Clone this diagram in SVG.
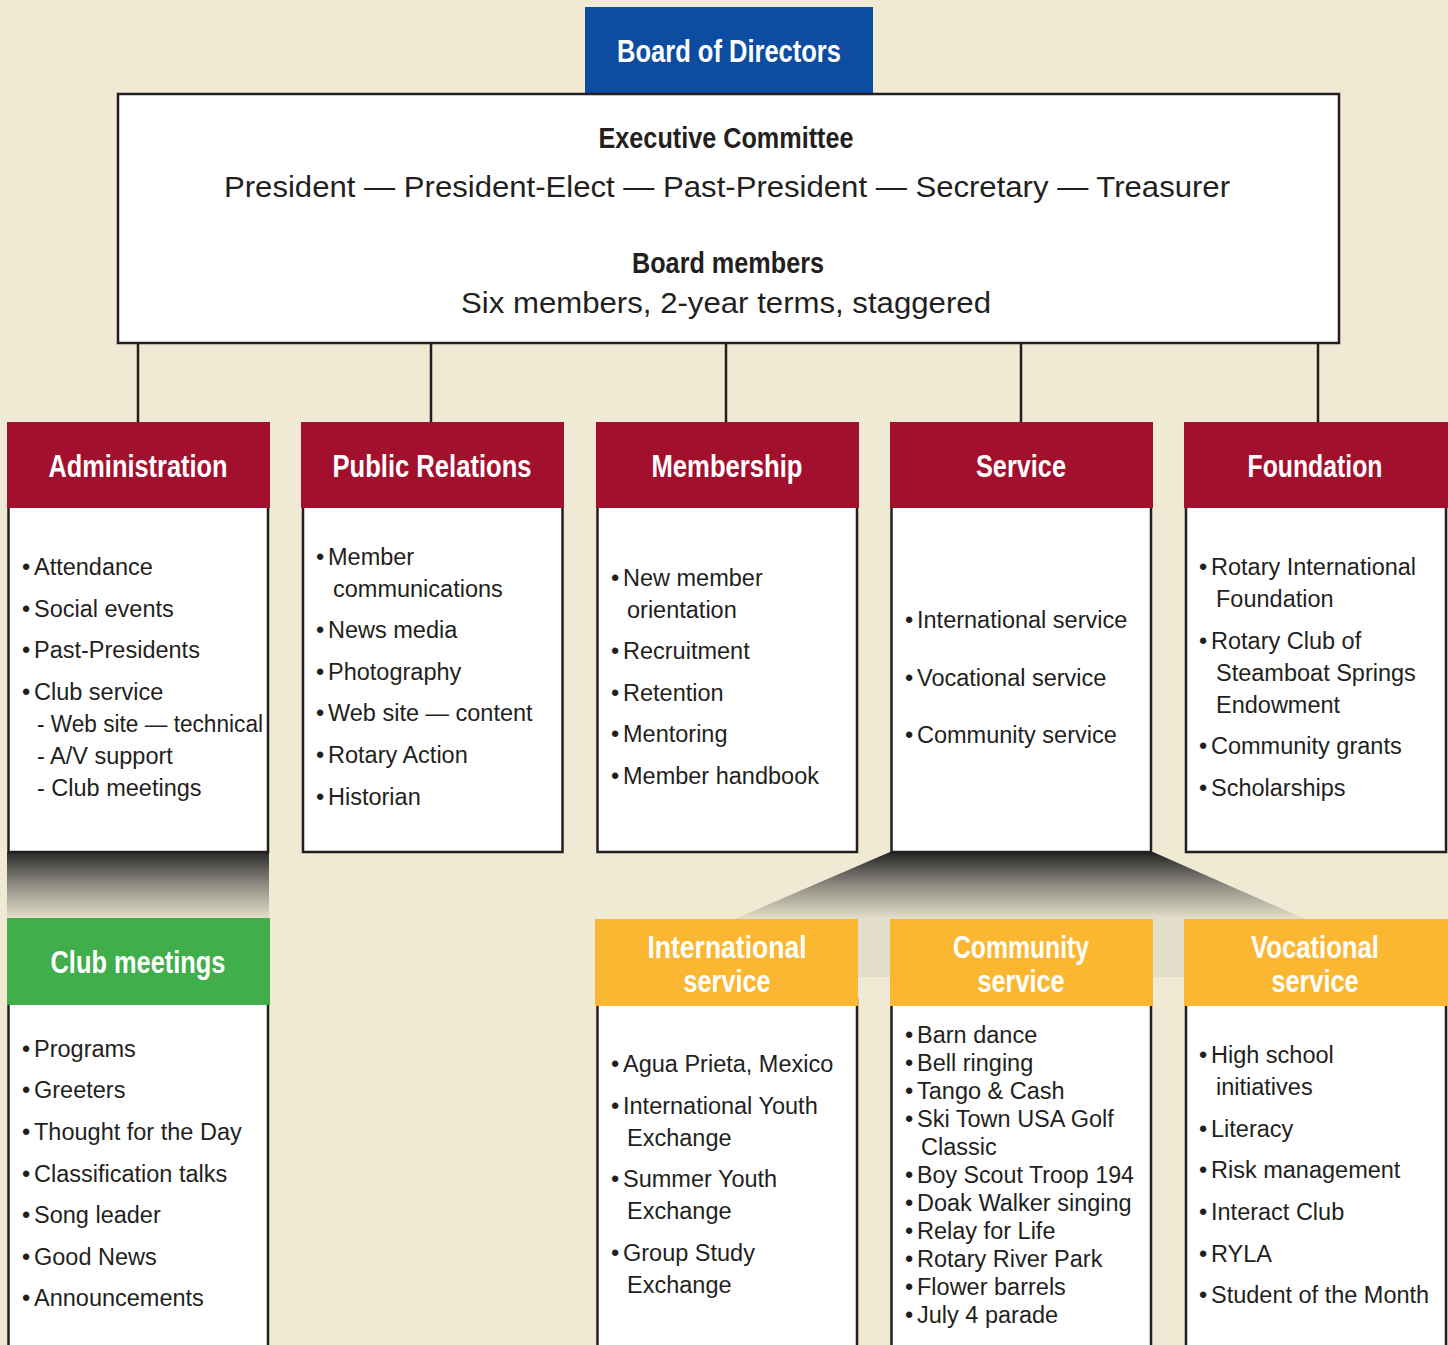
<svg xmlns="http://www.w3.org/2000/svg" width="1448" height="1345" viewBox="0 0 1448 1345">
<style>
.hd{font-family:"Liberation Sans",Arial,sans-serif;font-weight:bold;font-size:31px;fill:#ffffff;text-anchor:middle}
.hk{font-family:"Liberation Sans",Arial,sans-serif;font-weight:bold;font-size:29px;fill:#231f20;text-anchor:middle}
.ex{font-family:"Liberation Sans",Arial,sans-serif;font-size:30px;fill:#231f20;text-anchor:middle}
.it{font-family:"Liberation Sans",Arial,sans-serif;font-size:23.5px;fill:#231f20}
.box{fill:#ffffff;stroke:#231f20;stroke-width:2.5}
.red{fill:#a3102d}
.grn{fill:#40ae4b}
.org{fill:#fbb732}
.blu{fill:#0c4da2}
.conn{stroke:#231f20;stroke-width:2.5;fill:none}
</style>
<defs>
<linearGradient id="shadeA" x1="0" y1="852" x2="0" y2="918" gradientUnits="userSpaceOnUse">
<stop offset="0" stop-color="#2a2a2a"/>
<stop offset="0.5" stop-color="#8f8d83"/>
<stop offset="1" stop-color="#e3dec9"/>
</linearGradient>
<linearGradient id="shadeS" x1="0" y1="852" x2="0" y2="977" gradientUnits="userSpaceOnUse">
<stop offset="0" stop-color="#222222"/>
<stop offset="0.27" stop-color="#8f8d83"/>
<stop offset="0.53" stop-color="#e3dec9"/>
<stop offset="1" stop-color="#e3dec9"/>
</linearGradient>
</defs>
<rect x="0" y="0" width="1448" height="1345" fill="#f0e9d4"/>

<g id="connectors">
<line class="conn" x1="138" y1="343" x2="138" y2="423"/>
<line class="conn" x1="431" y1="343" x2="431" y2="423"/>
<line class="conn" x1="726" y1="343" x2="726" y2="423"/>
<line class="conn" x1="1021" y1="343" x2="1021" y2="423"/>
<line class="conn" x1="1318" y1="343" x2="1318" y2="423"/>
<rect x="7" y="852" width="262" height="66" fill="url(#shadeA)"/>
<polygon points="890,852 1153,852 1437,977 601,977" fill="url(#shadeS)"/>
</g>

<g id="board">
<rect class="blu" x="585" y="7" width="288" height="86"/>
<text class="hd" x="729" y="62" textLength="224" lengthAdjust="spacingAndGlyphs">Board of Directors</text>
</g>

<g id="executive">
<rect class="box" x="118" y="94" width="1221" height="249"/>
<text class="hk" x="726" y="148" textLength="255" lengthAdjust="spacingAndGlyphs">Executive Committee</text>
<text class="ex" x="727" y="197" textLength="1006" lengthAdjust="spacingAndGlyphs">President — President-Elect — Past-President — Secretary — Treasurer</text>
<text class="hk" x="728" y="273" textLength="192" lengthAdjust="spacingAndGlyphs">Board members</text>
<text class="ex" x="726" y="313" textLength="530" lengthAdjust="spacingAndGlyphs">Six members, 2-year terms, staggered</text>
</g>

<g id="administration">
<rect class="box" x="8.5" y="500" width="259.5" height="352"/>
<rect class="red" x="7" y="422" width="263" height="86"/>
<text class="hd" x="138" y="477" textLength="179" lengthAdjust="spacingAndGlyphs">Administration</text>
<text class="it" y="575"><tspan x="22">•</tspan><tspan x="34">Attendance</tspan></text>
<text class="it" y="617"><tspan x="22">•</tspan><tspan x="34">Social events</tspan></text>
<text class="it" y="658"><tspan x="22">•</tspan><tspan x="34">Past-Presidents</tspan></text>
<text class="it" y="700"><tspan x="22">•</tspan><tspan x="34">Club service</tspan></text>
<text class="it" x="37" y="732" textLength="226" lengthAdjust="spacingAndGlyphs">- Web site — technical</text>
<text class="it" x="37" y="764">- A/V support</text>
<text class="it" x="37" y="796">- Club meetings</text>
</g>

<g id="public-relations">
<rect class="box" x="303" y="500" width="259.5" height="352"/>
<rect class="red" x="301" y="422" width="263" height="86"/>
<text class="hd" x="432" y="477" textLength="199" lengthAdjust="spacingAndGlyphs">Public Relations</text>
<text class="it" y="565"><tspan x="316">•</tspan><tspan x="328">Member</tspan></text>
<text class="it" x="333" y="597">communications</text>
<text class="it" y="638"><tspan x="316">•</tspan><tspan x="328">News media</tspan></text>
<text class="it" y="680"><tspan x="316">•</tspan><tspan x="328">Photography</tspan></text>
<text class="it" y="721"><tspan x="316">•</tspan><tspan x="328">Web site — content</tspan></text>
<text class="it" y="763"><tspan x="316">•</tspan><tspan x="328">Rotary Action</tspan></text>
<text class="it" y="805"><tspan x="316">•</tspan><tspan x="328">Historian</tspan></text>
</g>

<g id="membership">
<rect class="box" x="597.5" y="500" width="259.5" height="352"/>
<rect class="red" x="596" y="422" width="263" height="86"/>
<text class="hd" x="727" y="477" textLength="151" lengthAdjust="spacingAndGlyphs">Membership</text>
<text class="it" y="586"><tspan x="611">•</tspan><tspan x="623">New member</tspan></text>
<text class="it" x="627" y="618">orientation</text>
<text class="it" y="659"><tspan x="611">•</tspan><tspan x="623">Recruitment</tspan></text>
<text class="it" y="701"><tspan x="611">•</tspan><tspan x="623">Retention</tspan></text>
<text class="it" y="742"><tspan x="611">•</tspan><tspan x="623">Mentoring</tspan></text>
<text class="it" y="784"><tspan x="611">•</tspan><tspan x="623">Member handbook</tspan></text>
</g>

<g id="service">
<rect class="box" x="891.5" y="500" width="259.5" height="352"/>
<rect class="red" x="890" y="422" width="263" height="86"/>
<text class="hd" x="1021" y="477" textLength="90" lengthAdjust="spacingAndGlyphs">Service</text>
<text class="it" y="628"><tspan x="905">•</tspan><tspan x="917">International service</tspan></text>
<text class="it" y="686"><tspan x="905">•</tspan><tspan x="917">Vocational service</tspan></text>
<text class="it" y="743"><tspan x="905">•</tspan><tspan x="917">Community service</tspan></text>
</g>

<g id="foundation">
<rect class="box" x="1186" y="500" width="260" height="352"/>
<rect class="red" x="1184" y="422" width="264" height="86"/>
<text class="hd" x="1315" y="477" textLength="135" lengthAdjust="spacingAndGlyphs">Foundation</text>
<text class="it" y="575"><tspan x="1199">•</tspan><tspan x="1211">Rotary International</tspan></text>
<text class="it" x="1216" y="607">Foundation</text>
<text class="it" y="649"><tspan x="1199">•</tspan><tspan x="1211">Rotary Club of</tspan></text>
<text class="it" x="1216" y="681">Steamboat Springs</text>
<text class="it" x="1216" y="713">Endowment</text>
<text class="it" y="754"><tspan x="1199">•</tspan><tspan x="1211">Community grants</tspan></text>
<text class="it" y="796"><tspan x="1199">•</tspan><tspan x="1211">Scholarships</tspan></text>
</g>

<g id="club-meetings">
<rect class="box" x="8.5" y="1000" width="259.5" height="360"/>
<rect class="grn" x="7" y="918" width="263" height="87"/>
<text class="hd" x="138" y="973" textLength="175" lengthAdjust="spacingAndGlyphs">Club meetings</text>
<text class="it" y="1057"><tspan x="22">•</tspan><tspan x="34">Programs</tspan></text>
<text class="it" y="1098"><tspan x="22">•</tspan><tspan x="34">Greeters</tspan></text>
<text class="it" y="1140"><tspan x="22">•</tspan><tspan x="34">Thought for the Day</tspan></text>
<text class="it" y="1182"><tspan x="22">•</tspan><tspan x="34">Classification talks</tspan></text>
<text class="it" y="1223"><tspan x="22">•</tspan><tspan x="34">Song leader</tspan></text>
<text class="it" y="1265"><tspan x="22">•</tspan><tspan x="34">Good News</tspan></text>
<text class="it" y="1306"><tspan x="22">•</tspan><tspan x="34">Announcements</tspan></text>
</g>

<g id="international-service">
<rect class="box" x="597.5" y="1000" width="259.5" height="360"/>
<rect class="org" x="595" y="919" width="263" height="87"/>
<text class="hd" x="727" y="958" textLength="159" lengthAdjust="spacingAndGlyphs">International</text>
<text class="hd" x="727" y="992" textLength="87" lengthAdjust="spacingAndGlyphs">service</text>
<text class="it" y="1072"><tspan x="611">•</tspan><tspan x="623">Agua Prieta, Mexico</tspan></text>
<text class="it" y="1114"><tspan x="611">•</tspan><tspan x="623">International Youth</tspan></text>
<text class="it" x="627" y="1146">Exchange</text>
<text class="it" y="1187"><tspan x="611">•</tspan><tspan x="623">Summer Youth</tspan></text>
<text class="it" x="627" y="1219">Exchange</text>
<text class="it" y="1261"><tspan x="611">•</tspan><tspan x="623">Group Study</tspan></text>
<text class="it" x="627" y="1293">Exchange</text>
</g>

<g id="community-service">
<rect class="box" x="891.5" y="1000" width="259.5" height="360"/>
<rect class="org" x="890" y="919" width="263" height="87"/>
<text class="hd" x="1021" y="958" textLength="136" lengthAdjust="spacingAndGlyphs">Community</text>
<text class="hd" x="1021" y="992" textLength="87" lengthAdjust="spacingAndGlyphs">service</text>
<text class="it" y="1043"><tspan x="905">•</tspan><tspan x="917">Barn dance</tspan></text>
<text class="it" y="1071"><tspan x="905">•</tspan><tspan x="917">Bell ringing</tspan></text>
<text class="it" y="1099"><tspan x="905">•</tspan><tspan x="917">Tango &amp; Cash</tspan></text>
<text class="it" y="1127"><tspan x="905">•</tspan><tspan x="917">Ski Town USA Golf</tspan></text>
<text class="it" x="921" y="1155">Classic</text>
<text class="it" y="1183"><tspan x="905">•</tspan><tspan x="917" textLength="217" lengthAdjust="spacingAndGlyphs">Boy Scout Troop 194</tspan></text>
<text class="it" y="1211"><tspan x="905">•</tspan><tspan x="917">Doak Walker singing</tspan></text>
<text class="it" y="1239"><tspan x="905">•</tspan><tspan x="917">Relay for Life</tspan></text>
<text class="it" y="1267"><tspan x="905">•</tspan><tspan x="917">Rotary River Park</tspan></text>
<text class="it" y="1295"><tspan x="905">•</tspan><tspan x="917">Flower barrels</tspan></text>
<text class="it" y="1323"><tspan x="905">•</tspan><tspan x="917">July 4 parade</tspan></text>
</g>

<g id="vocational-service">
<rect class="box" x="1186" y="1000" width="260" height="360"/>
<rect class="org" x="1184" y="919" width="264" height="87"/>
<text class="hd" x="1315" y="958" textLength="128" lengthAdjust="spacingAndGlyphs">Vocational</text>
<text class="hd" x="1315" y="992" textLength="87" lengthAdjust="spacingAndGlyphs">service</text>
<text class="it" y="1063"><tspan x="1199">•</tspan><tspan x="1211">High school</tspan></text>
<text class="it" x="1216" y="1095">initiatives</text>
<text class="it" y="1137"><tspan x="1199">•</tspan><tspan x="1211">Literacy</tspan></text>
<text class="it" y="1178"><tspan x="1199">•</tspan><tspan x="1211">Risk management</tspan></text>
<text class="it" y="1220"><tspan x="1199">•</tspan><tspan x="1211">Interact Club</tspan></text>
<text class="it" y="1262"><tspan x="1199">•</tspan><tspan x="1211">RYLA</tspan></text>
<text class="it" y="1303"><tspan x="1199">•</tspan><tspan x="1211">Student of the Month</tspan></text>
</g>
</svg>
